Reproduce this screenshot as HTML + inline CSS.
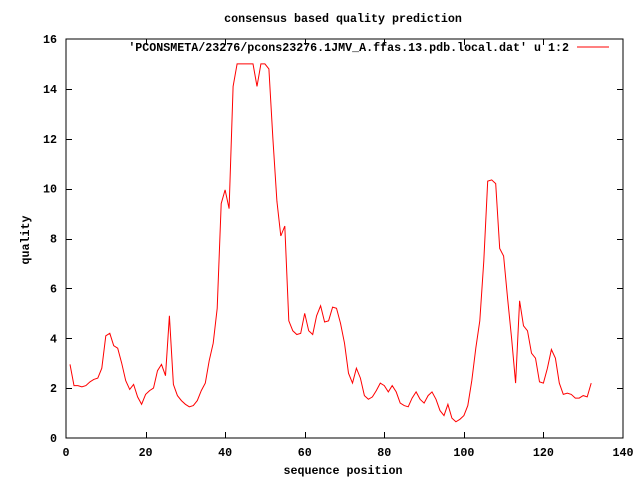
<!DOCTYPE html>
<html><head><meta charset="utf-8"><style>
body{margin:0;background:#fff}
svg text{font-family:"Liberation Mono",monospace;font-weight:bold;font-size:11.67px;fill:#000}
</style></head><body>
<svg id="chart" width="640" height="480" xmlns="http://www.w3.org/2000/svg">
<rect width="640" height="480" fill="#fff"/>
<text x="343" y="22" text-anchor="middle">consensus based quality prediction</text>
<text transform="translate(29,240) rotate(-90)" text-anchor="middle">quality</text>
<text x="343" y="474" text-anchor="middle">sequence position</text>
<rect x="66" y="39" width="557" height="399" fill="none" stroke="#000" stroke-width="1"/>
<g id="ticks"></g>
<text x="569" y="51" text-anchor="end">'PCONSMETA/23276/pcons23276.1JMV_A.ffas.13.pdb.local.dat' u 1:2</text>
<line x1="577" y1="47" x2="609" y2="47" stroke="#f00" stroke-width="1"/>
<polyline id="series" fill="none" stroke="#f00" stroke-width="1"/>
</svg>
<script>
const xTicks=[0,20,40,60,80,100,120,140];
const yTicks=[0,2,4,6,8,10,12,14,16];
const quality=[2.95,2.1,2.1,2.05,2.1,2.25,2.35,2.4,2.8,4.1,4.2,3.7,3.6,3.0,2.3,1.95,2.15,1.65,1.35,1.75,1.9,2.0,2.7,2.95,2.5,4.9,2.15,1.7,1.5,1.35,1.25,1.3,1.5,1.9,2.2,3.1,3.8,5.2,9.4,9.95,9.2,14.1,15,15,15,15,15,14.1,15,15,14.8,12,9.5,8.1,8.5,4.7,4.3,4.15,4.2,5.0,4.3,4.15,4.9,5.3,4.65,4.7,5.25,5.2,4.6,3.8,2.6,2.2,2.8,2.4,1.7,1.55,1.65,1.9,2.2,2.1,1.85,2.1,1.85,1.4,1.3,1.25,1.6,1.85,1.55,1.4,1.7,1.85,1.55,1.1,0.9,1.35,0.8,0.65,0.75,0.9,1.3,2.3,3.6,4.7,7.1,10.3,10.35,10.2,7.6,7.3,5.6,4.0,2.2,5.5,4.5,4.3,3.4,3.2,2.25,2.2,2.8,3.55,3.2,2.2,1.75,1.8,1.75,1.6,1.6,1.7,1.65,2.2];
const X0=66,X1=623,Y0=438,Y1=39;
const sx=v=>X0+(v-0)/(140-0)*(X1-X0);
const sy=v=>Y0-(v-0)/(16-0)*(Y0-Y1);
const NS="http://www.w3.org/2000/svg";
const g=document.getElementById('ticks');
function mk(t,a){const e=document.createElementNS(NS,t);for(const k in a)e.setAttribute(k,a[k]);return e;}
xTicks.forEach(v=>{
  const x=Math.round(sx(v))+0.5;
  if(v>0&&v<140){
    const l1=mk('line',{x1:x,y1:Y0,x2:x,y2:Y0-6,stroke:'#000'});
    
    
    g.appendChild(l1);
    const l2=mk('line',{x1:x,y1:Y1,x2:x,y2:Y1+6,stroke:'#000'});
    
    
    g.appendChild(l2);
  }
  const t=mk('text',{x:sx(v),y:456,'text-anchor':'middle'});
  t.textContent=v;
  
  
  g.appendChild(t);
});
yTicks.forEach(v=>{
  const y=Math.round(sy(v))+0.5;
  if(v>0&&v<16){
    const l1=mk('line',{x1:X0,y1:y,x2:X0+6,y2:y,stroke:'#000'});
    
    
    g.appendChild(l1);
    const l2=mk('line',{x1:X1,y1:y,x2:X1-6,y2:y,stroke:'#000'});
    
    
    g.appendChild(l2);
  }
  const t=mk('text',{x:57,y:sy(v)+4,'text-anchor':'end'});
  t.textContent=v;
  
  
  g.appendChild(t);
});
document.getElementById('series').setAttribute('points',quality.map((v,i)=>sx(i+1).toFixed(1)+','+sy(v).toFixed(1)).join(' '));
</script>
</body></html>
